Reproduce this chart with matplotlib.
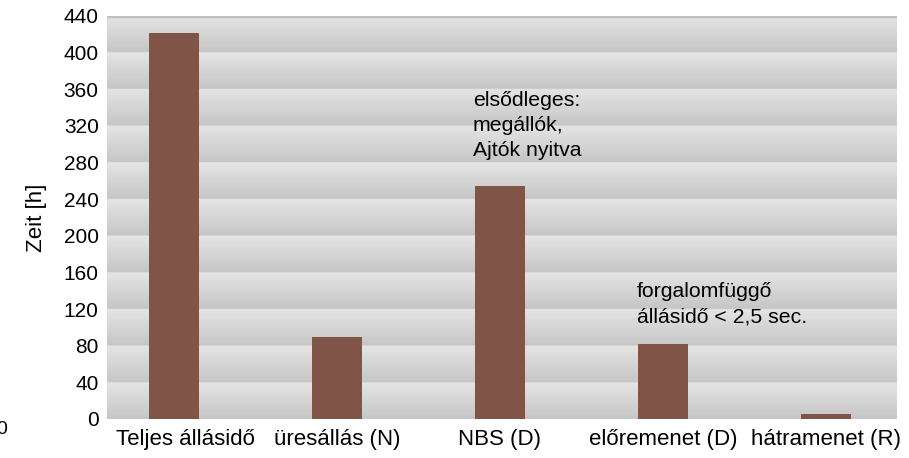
import numpy as np
import matplotlib.pyplot as plt
import matplotlib.transforms as mtransforms

# -------------------- Data --------------------

categories = ['Teljes állásidő', 'üresállás (N)', 'NBS (D)',
              'előremenet (D)', 'hátramenet (R)']
hours = [421, 90, 254, 82, 5]
yticks = list(range(0, 441, 40))

note_nbs = 'elsődleges:\nmegállók,\nAjtók nyitva'
note_fwd = 'forgalomfüggő\nállásidő < 2,5 sec.'

XLIM = (-0.411, 4.436)

# -------------------- Plot --------------------

def banded_background(ax, ymax, step):
    # each band between gridlines fades from light (top) to darker (bottom)
    ys = np.linspace(0, ymax, 881)
    frac = (ys % step) / step
    shade = 0.775 + (0.895 - 0.775) * frac
    img = np.repeat(shade[:, None], 2, axis=1)
    ax.imshow(img, cmap='gray', vmin=0, vmax=1, origin='lower',
              extent=(XLIM[0], XLIM[1], 0, ymax),
              aspect='auto', zorder=0, interpolation='bilinear')
    ax.axhline(ymax, color='#c0c0c0', lw=2.5, zorder=1)


def main():
    plt.rcParams['font.family'] = ['Liberation Sans', 'DejaVu Sans']

    fig = plt.figure(figsize=(9.09, 4.58), dpi=100)
    ax = fig.add_axes([0.1177, 0.0852, 0.869, 0.880])

    banded_background(ax, 440, 40)

    x = np.arange(len(categories))
    ax.bar(x, hours, width=0.307, color='#805548', zorder=2)

    ax.set_xlim(*XLIM)
    ax.set_ylim(0, 440)
    ax.set_yticks(yticks)
    ax.set_xticks(x)
    ax.set_xticklabels(categories, fontsize=16)
    ax.tick_params(axis='y', labelsize=15, length=0, pad=6)
    ax.tick_params(axis='x', length=0, pad=7)
    for s in ax.spines.values():
        s.set_visible(False)

    # first category label sits a bit right of its bar
    lbl = ax.get_xticklabels()[0]
    lbl.set_transform(lbl.get_transform() +
                      mtransforms.ScaledTranslation(0.12, 0, fig.dpi_scale_trans))

    ax.set_ylabel('Zeit [h]', fontsize=16, labelpad=12)

    ax.text(1.835, 358, note_nbs, fontsize=15.3, va='top', ha='left',
            linespacing=1.39, zorder=3)
    ax.text(2.84, 149, note_fwd, fontsize=15.3, va='top', ha='left',
            linespacing=1.39, zorder=3)

    # stray label at the lower left edge
    fig.text(-0.004, 0.062, '0', fontsize=14, ha='left', va='center')

    fig.savefig('out.png', dpi=100)


if __name__ == "__main__":
    main()
